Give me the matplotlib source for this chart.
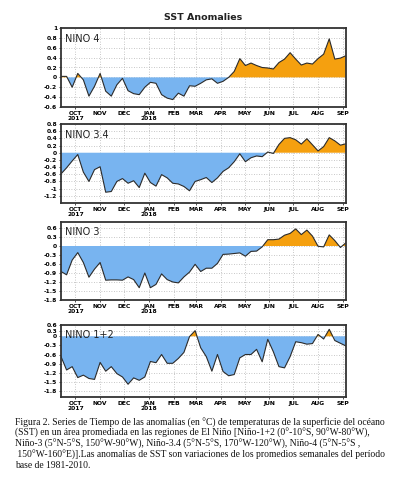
import numpy as np
import pandas as pd
import matplotlib
matplotlib.use("Agg")
import matplotlib.pyplot as plt
import matplotlib.dates as mdates

plt.rcParams['axes.unicode_minus'] = False

# ---------------- data ----------------
weeks = pd.date_range("2017-09-13", periods=52, freq="7D")

nino4 = [0.02, 0.02, -0.20, 0.08, -0.05, -0.38, -0.18, 0.08, -0.28, -0.38,
         -0.15, -0.02, -0.27, -0.33, -0.35, -0.20, -0.10, -0.12, -0.35, -0.42,
         -0.45, -0.32, -0.38, -0.17, -0.18, -0.12, -0.05, -0.03, -0.12, -0.08,
         0.00, 0.12, 0.38, 0.24, 0.29, 0.24, 0.20, 0.19, 0.17, 0.30,
         0.37, 0.50, 0.37, 0.25, 0.29, 0.27, 0.38, 0.47, 0.78, 0.37,
         0.39, 0.44]

nino34 = [-0.59, -0.42, -0.23, -0.05, -0.54, -0.80, -0.47, -0.39, -1.10, -1.08,
          -0.80, -0.72, -0.85, -0.78, -0.97, -0.57, -0.83, -0.93, -0.61, -0.70,
          -0.85, -0.87, -0.94, -1.06, -0.80, -0.75, -0.69, -0.83, -0.70, -0.52,
          -0.42, -0.25, -0.03, -0.25, -0.14, -0.09, -0.11, 0.02, -0.02, 0.23,
          0.40, 0.42, 0.36, 0.24, 0.39, 0.22, 0.05, 0.17, 0.42, 0.33,
          0.21, 0.25]

nino3 = [-0.85, -0.96, -0.47, -0.22, -0.55, -1.04, -0.77, -0.55, -1.14, -1.13,
         -1.13, -1.14, -1.03, -1.12, -1.39, -0.90, -1.39, -1.28, -0.93, -1.12,
         -1.20, -1.23, -1.03, -0.87, -0.61, -0.85, -0.74, -0.74, -0.58, -0.28,
         -0.27, -0.25, -0.23, -0.34, -0.18, -0.17, -0.03, 0.21, 0.21, 0.23,
         0.36, 0.42, 0.57, 0.38, 0.53, 0.33, -0.01, -0.03, 0.37, 0.18,
         -0.05, 0.11]

nino12 = [-0.67, -1.11, -1.00, -1.36, -1.28, -1.39, -1.42, -0.86, -1.15, -1.00,
          -1.23, -1.34, -1.58, -1.37, -1.45, -1.34, -0.83, -0.87, -0.60, -0.89,
          -0.89, -0.73, -0.53, -0.01, 0.30, -0.38, -0.67, -1.15, -0.60, -1.16,
          -1.30, -1.26, -0.71, -0.60, -0.60, -0.43, -0.84, -0.10, -0.51, -1.00,
          -1.04, -0.67, -0.18, -0.21, -0.26, -0.24, 0.10, -0.09, 0.37, -0.14,
          -0.23, -0.32]

panel_names = ["NINO 4", "NINO 3.4", "NINO 3", "NINO 1+2"]
month_ticks = pd.date_range("2017-10-01", periods=12, freq="MS")
month_labels = ["OCT\n2017", "NOV", "DEC", "JAN\n2018", "FEB", "MAR",
                "APR", "MAY", "JUN", "JUL", "AUG", "SEP"]
yticks_p1 = [-0.6, -0.4, -0.2, 0, 0.2, 0.4, 0.6, 0.8, 1]
yticks_p2 = [-1.2, -1, -0.8, -0.6, -0.4, -0.2, 0, 0.2, 0.4, 0.6, 0.8]
yticks_p3 = [-1.8, -1.5, -1.2, -0.9, -0.6, -0.3, 0, 0.3, 0.6]
yticks_p4 = [-1.8, -1.5, -1.2, -0.9, -0.6, -0.3, 0, 0.3, 0.6]

caption_lines = [
    "Figura 2. Series de Tiempo de las anomalías (en °C) de temperaturas de la superficie del océano",
    "(SST) en un área promediada en las regiones de El Niño [Niño-1+2 (0°-10°S, 90°W-80°W),",
    "Niño-3 (5°N-5°S, 150°W-90°W), Niño-3.4 (5°N-5°S, 170°W-120°W), Niño-4 (5°N-5°S ,",
    " 150°W-160°E)].Las anomalías de SST son variaciones de los promedios semanales del período",
    "base de 1981-2010.",
]

# ---------------- layout / style ----------------
W, H = 396, 490
fig = plt.figure(figsize=(W / 100, H / 100), dpi=100)

BLUE = "#78b4f0"
ORANGE = "#f5a00f"
FRAME = "#333333"

panels = [
    (nino4, yticks_p1, (-0.6, 1.0), (28, 107), None),
    (nino34, yticks_p2, (-1.4, 0.8), (124, 203), None),
    (nino3, yticks_p3, (-1.8, 0.8), (222, 300), None),
    (nino12, yticks_p4, (-2.0, 0.6), (325, 397), 0.62),
]

x0, x1 = 61, 346

for i, (vals, yt, ylim, (top, bot), posf) in enumerate(panels):
    ax = fig.add_axes([x0 / W, 1 - bot / H, (x1 - x0) / W, (bot - top) / H])
    v = np.array(vals)
    if posf is not None:
        f = posf
        ax.set_yscale('function',
                      functions=(lambda y, f=f: np.where(y > 0, y * f, y),
                                 lambda y, f=f: np.where(y > 0, y / f, y)))
    ax.fill_between(weeks, v, 0, where=v >= 0, interpolate=True,
                    facecolor=ORANGE, edgecolor="none", zorder=2)
    ax.fill_between(weeks, v, 0, where=v <= 0, interpolate=True,
                    facecolor=BLUE, edgecolor="none", zorder=2)
    ax.plot(weeks, v, color="#2b2b2b", lw=0.8, zorder=3)

    ax.set_xlim(weeks[0], weeks[-1])
    ax.set_ylim(*ylim)
    ax.set_yticks(yt)
    ax.set_yticklabels([("%g" % t) for t in yt], fontsize=4.3, fontweight="bold")
    ax.set_xticks(month_ticks)
    ax.set_xticklabels(month_labels, fontsize=4.3, fontweight="bold",
                       linespacing=1.05, va="top")
    ax.tick_params(axis="both", length=1.5, width=0.6, pad=1.2, color=FRAME)
    ax.grid(True, color="#b5b5b5", lw=0.6, linestyle=(0, (1, 2)), zorder=1)
    ax.set_axisbelow(True)
    for s in ax.spines.values():
        s.set_color(FRAME)
        s.set_linewidth(1.3)
        s.set_zorder(5)
    ax.text(0.015, 0.93, panel_names[i], transform=ax.transAxes,
            fontsize=7, va="top", ha="left", color="#222222", zorder=6)

fig.text(203 / W, 1 - 17 / H, "SST Anomalies", ha="center", va="center",
         fontsize=6.8, fontweight="bold", color="#222222")

ys = [423, 433.5, 444, 454.5, 465]
for y, line in zip(ys, caption_lines):
    fig.text(15 / W, 1 - y / H, line, ha="left", va="center",
             fontsize=6.9, family="Liberation Serif", color="#111111")

fig.savefig("out.png", dpi=100)
